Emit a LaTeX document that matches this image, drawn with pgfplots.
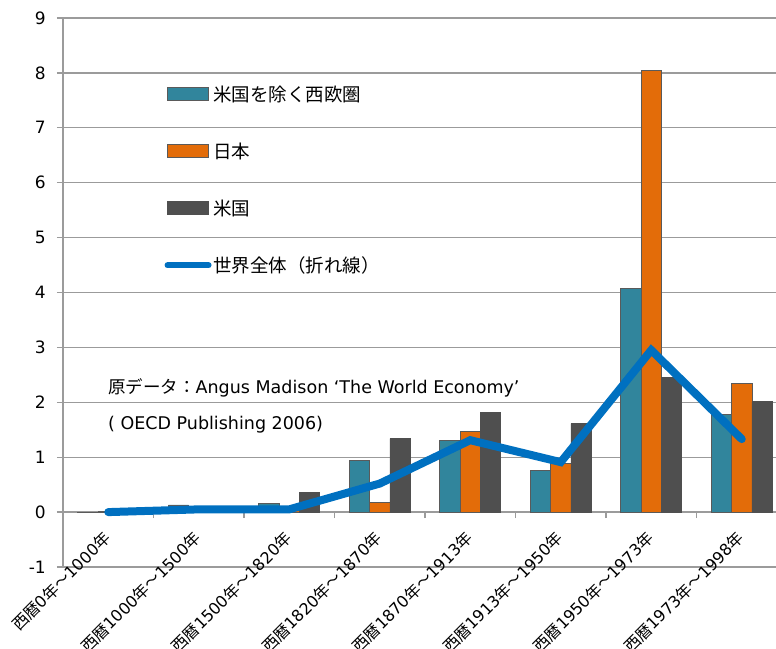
\documentclass[border=0pt]{standalone}
\usepackage{fontspec}
\setmainfont{Noto Sans CJK JP}
\newfontfamily\lat{DejaVu Sans}
\usepackage{pgfplots}
\pgfplotsset{compat=1.18}
\definecolor{cteal}{RGB}{49,133,156}
\definecolor{corange}{RGB}{227,108,9}
\definecolor{cgray}{RGB}{79,79,79}
\definecolor{cblue}{RGB}{0,112,192}
\definecolor{cgrid}{RGB}{155,155,155}
\definecolor{cedge}{RGB}{90,90,90}
\begin{document}
\begin{tikzpicture}
\begin{axis}[
  name=ax,
  scale only axis,
  width=724pt, height=549pt,
  xmin=-0.5, xmax=7.5,
  ymin=-1, ymax=9,
  ytick={-1,0,...,9},
  axis x line=middle,
  axis y line=left,
  axis line style={-, cgrid, line width=1.3pt},
  ymajorgrids,
  grid style={cgrid, line width=1.3pt},
  xtick={0,...,7},
  major x tick style={draw=none},
  minor xtick={0.5,1.5,...,6.5},
  minor x tick style={cgrid, line width=1.3pt},
  minor tick length=6pt,
  major tick length=6pt,
  y tick style={cgrid, line width=1.3pt},
  tick align=outside,
  xticklabels={{西暦{\lat 0}年～{\lat 1000}年},{西暦{\lat 1000}年～{\lat 1500}年},{西暦{\lat 1500}年～{\lat 1820}年},{西暦{\lat 1820}年～{\lat 1870}年},{西暦{\lat 1870}年～{\lat 1913}年},{西暦{\lat 1913}年～{\lat 1950}年},{西暦{\lat 1950}年～{\lat 1973}年},{西暦{\lat 1973}年～{\lat 1998}年}},
  xticklabel style={xshift=-6pt, yshift=-10pt, rotate=45, anchor=north east, inner sep=1pt, font=\fontsize{16}{18}\selectfont},
  yticklabel style={font=\lat\fontsize{17}{20}\selectfont, inner sep=2pt, xshift=-9pt},
  /pgf/number format/assume math mode=true,
  clip=false,
  legend style={at={(axis cs:0.62,7.8)}, anchor=north west, draw=none, fill=none,
    font=\fontsize{18.5}{21}\selectfont, row sep=37pt, inner sep=0pt,
    nodes={inner sep=1.5pt}},
  legend cell align=left,
]
\addplot[ybar, bar width=20.3pt, bar shift=-20.3pt, fill=cteal, draw=cedge, line width=0.8pt,
  legend image code/.code={\draw[fill=cteal, draw=cedge, line width=0.8pt] (0pt,-6.5pt) rectangle (41pt,6.5pt);}]
  coordinates {(0,-0.01) (1,0.13) (2,0.15) (3,0.945) (4,1.31) (5,0.76) (6,4.07) (7,1.78)};
\addlegendentry{米国を除く西欧圏}
\addplot[ybar, bar width=20.3pt, bar shift=0pt, fill=corange, draw=cedge, line width=0.8pt,
  legend image code/.code={\draw[fill=corange, draw=cedge, line width=0.8pt] (0pt,-6.5pt) rectangle (41pt,6.5pt);}]
  coordinates {(0,0.01) (1,0.03) (2,0.09) (3,0.18) (4,1.47) (5,0.88) (6,8.04) (7,2.35)};
\addlegendentry{日本}
\addplot[ybar, bar width=20.3pt, bar shift=20.3pt, fill=cgray, draw=cgray, line width=0.8pt,
  legend image code/.code={\draw[fill=cgray, draw=cgray, line width=0.8pt] (0pt,-6.5pt) rectangle (41pt,6.5pt);}]
  coordinates {(0,0.00) (1,0.00) (2,0.36) (3,1.34) (4,1.82) (5,1.61) (6,2.46) (7,2.01)};
\addlegendentry{米国}
\addplot[sharp plot, cblue, line width=8pt, line cap=round, line join=miter, mark=none,
  legend image code/.code={\draw[cblue, line width=6pt, line cap=round] (0pt,0pt) -- (41pt,0pt);}]
  coordinates {(0,0.00) (1,0.05) (2,0.05) (3,0.52) (4,1.31) (5,0.91) (6,2.95) (7,1.33)};
\addlegendentry{世界全体（折れ線）}
\node[anchor=west, inner sep=0pt, font=\fontsize{17.5}{20}\selectfont] at (axis cs:-0.003,2.26) {原データ：{\lat Angus Madison ‘The World Economy’}};
\node[anchor=west, inner sep=0pt, font=\lat\fontsize{17.5}{20}\selectfont] at (axis cs:-0.003,1.60) {( OECD Publishing 2006)};
\end{axis}
\pgfresetboundingbox
\path[use as bounding box] ([xshift=-63pt,yshift=-81pt]ax.south west) rectangle ([xshift=713pt,yshift=567pt]ax.south west);
\end{tikzpicture}
\end{document}
